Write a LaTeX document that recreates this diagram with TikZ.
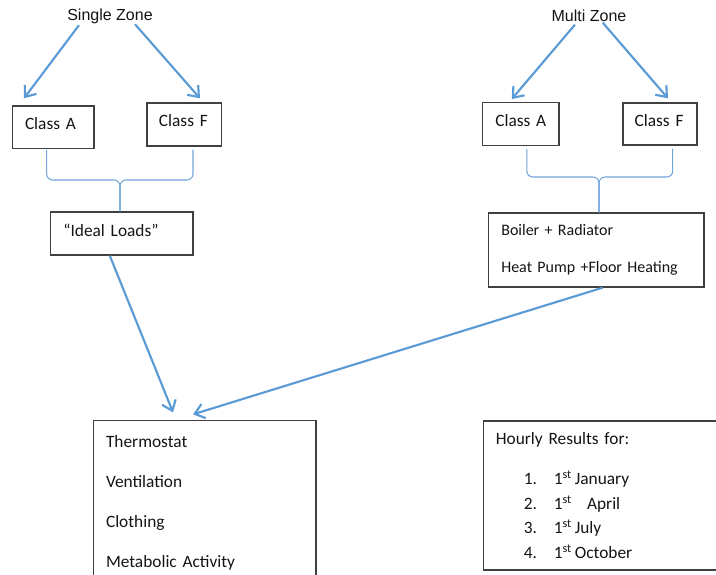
\documentclass[tikz,border=0pt]{standalone}
\usepackage{fontspec}
\setmainfont{Carlito}
\newfontfamily\arialfont{Liberation Sans}
\usetikzlibrary{arrows.meta}
\definecolor{officeblue}{RGB}{91,155,213}
\definecolor{bracecol}{RGB}{115,165,218}
\definecolor{boxline}{RGB}{64,64,64}
\definecolor{textcol}{RGB}{20,20,20}

\begin{document}
\begin{tikzpicture}[x=0.75pt, y=-0.75pt,
    zonelabel/.style={font=\arialfont\fontsize{12}{14}\selectfont,
        inner sep=0pt, text=textcol},
    box/.style={draw=boxline, line width=1pt, inner xsep=9.5pt,
        inner ysep=0pt, align=left, text=textcol,
        font=\fontsize{13}{16}\selectfont},
    onebox/.style={box, text depth=5.5pt},
    arrow/.style={officeblue, line width=1.6pt,
        -{Straight Barb[length=7pt, width=11pt]}},
    brace/.style={bracecol, line width=0.8pt, rounded corners=4.5pt}
]
    \useasboundingbox (0,0) rectangle (716,574);
    \clip (0,0) rectangle (716,574);

    % single zone
    \node[zonelabel] (sz) at (110,16) {Single Zone};
    \node[onebox, text width=42.3pt, minimum height=32pt] (szA) at (53.2,127.3) {Class A};
    \node[onebox, text width=38pt, inner xsep=9pt, minimum height=32.25pt] (szF) at (184.3,124.5) {Class F};
    \node[onebox, text width=87.7pt, minimum height=32.25pt] (ideal) at (121.8,233.5) {“Ideal Loads”};

    % multi zone
    \node[zonelabel] (mz) at (589,16) {Multi Zone};
    \node[onebox, text width=38.2pt, minimum height=32pt] (mzA) at (520.8,124) {Class A};
    \node[onebox, text width=38pt, inner xsep=8.75pt, minimum height=31.5pt] (mzF) at (660,124) {Class F};
    \node[box, text width=142.5pt, minimum height=55.5pt,
        font=\fontsize{12}{27.75}\selectfont] (plant) at (596.3,250)
        {Boiler + Radiator\\Heat Pump +Floor Heating};

    % bottom boxes
    \node[box, text width=148pt, minimum height=122.5pt,
        font=\fontsize{13}{30}\selectfont] (inputs) at (204.7,502.4)
        {Thermostat\\Ventilation\\Clothing\\Metabolic Activity};
    \node[box, text width=166pt, minimum height=111.75pt,
        font=\fontsize{13}{18.4}\selectfont] (results) at (606.5,495.5)
        {Hourly Results for:\\[11.6pt]
        \hspace*{21pt}\makebox[22.5pt][l]{1.}1\textsuperscript{st}\,January\\
        \hspace*{21pt}\makebox[22.5pt][l]{2.}1\textsuperscript{st}\hspace{7pt} April\\
        \hspace*{21pt}\makebox[22.5pt][l]{3.}1\textsuperscript{st}\,July\\
        \hspace*{21pt}\makebox[22.5pt][l]{4.}1\textsuperscript{st}\,October};

    % arrows
    \draw[arrow] ([shift={(-31,1.5)}]sz.south) -- ([shift={(-29.2,-7)}]szA.north);
    \draw[arrow] ([shift={(25,0.5)}]sz.south) -- ([shift={(15.7,-4)}]szF.north);
    \draw[arrow] ([shift={(-14,2.5)}]mz.south) -- ([shift={(-9,-3)}]mzA.north);
    \draw[arrow] ([shift={(13.7,0.5)}]mz.south) -- ([shift={(8,-4)}]mzF.north);
    \draw[arrow] ([shift={(-12,0)}]ideal.south) -- ([shift={(-31.7,-7.7)}]inputs.north);
    \draw[arrow] ([shift={(6.4,0)}]plant.south) -- ([shift={(-11.7,-5.7)}]inputs.north);

    % braces
    \coordinate (szm) at (120,180);
    \coordinate (mzm) at (599,177);
    \draw[brace] ([shift={(-6.5,0.5)}]szA.south) |- (szm) -- (szm |- ideal.north);
    \draw[brace] ([shift={(8.7,3)}]szF.south) |- (szm) -- (szm |- ideal.north);
    \draw[brace] ([shift={(6,3)}]mzA.south) |- (mzm) -- (mzm |- plant.north);
    \draw[brace] ([shift={(12.7,3)}]mzF.south) |- (mzm) -- (mzm |- plant.north);
\end{tikzpicture}
\end{document}
